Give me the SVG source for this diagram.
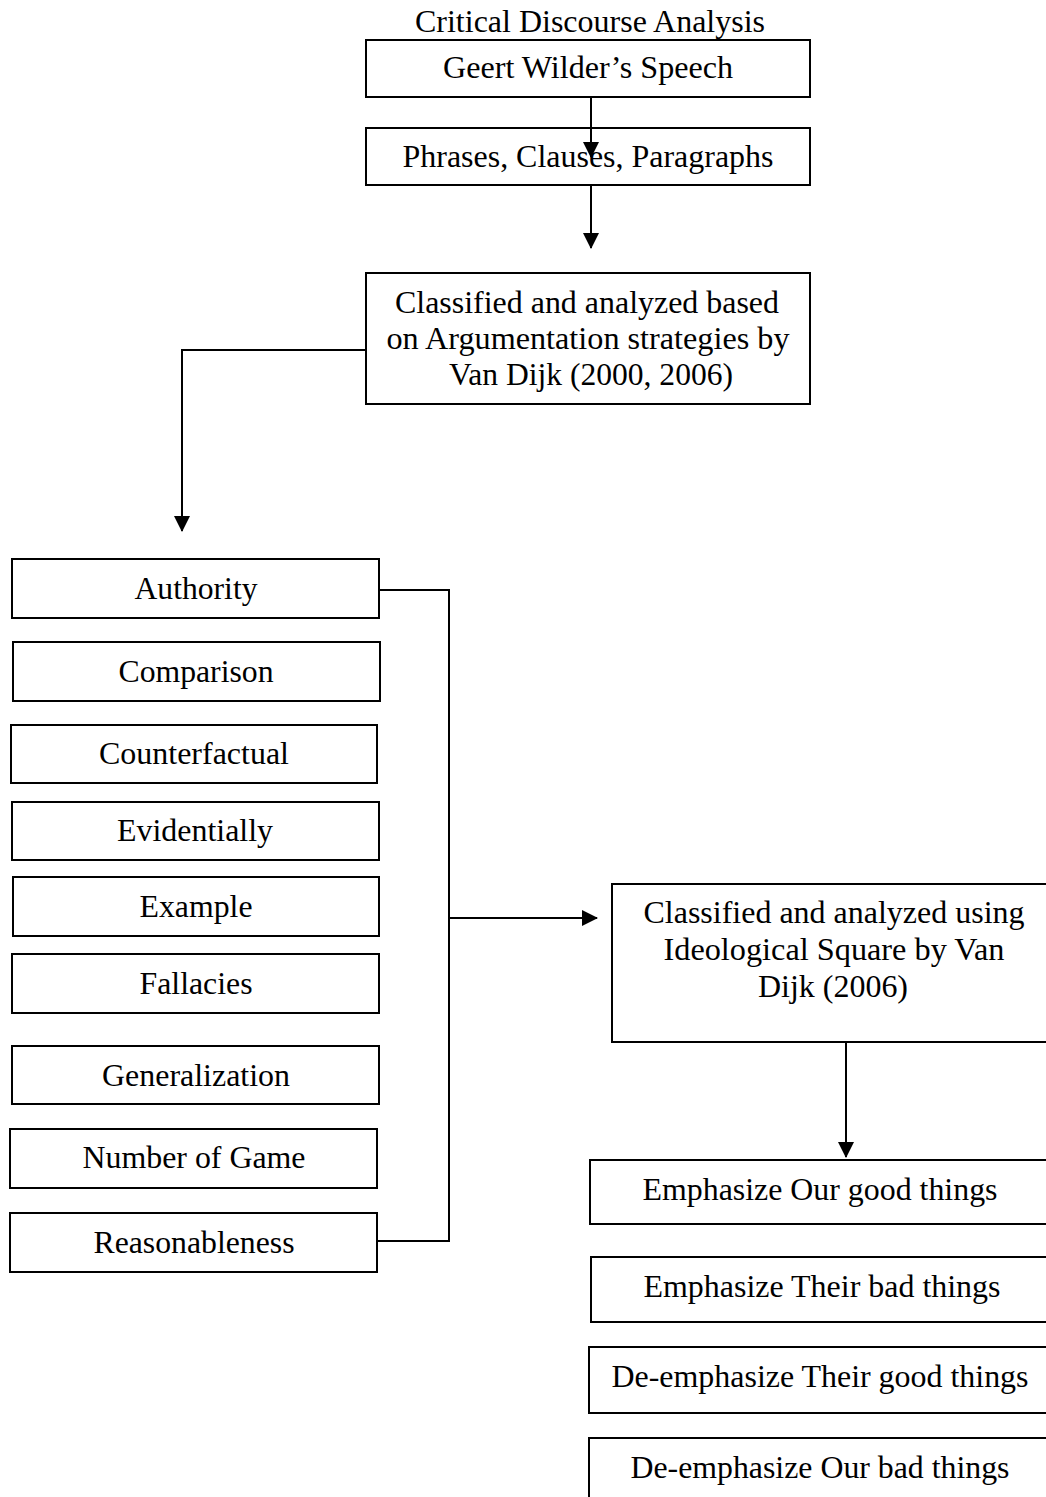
<svg xmlns="http://www.w3.org/2000/svg" width="1046" height="1497" viewBox="0 0 1046 1497">
<style>
  .box{fill:#fff;stroke:#000;stroke-width:2}
  .t{font-family:"Liberation Serif","Times New Roman",serif;font-size:32px;fill:#000;text-anchor:middle}
  .c{fill:none;stroke:#000;stroke-width:2}
</style>
<defs>
  <marker id="ah" markerUnits="userSpaceOnUse" markerWidth="16" markerHeight="16" viewBox="0 0 16 16" refX="15" refY="8" orient="auto">
    <path d="M0,0 L16,8 L0,16 Z" fill="#000"/>
  </marker>
</defs>
<rect width="1046" height="1497" fill="#fff"/>

<g id="title"><text class="t" x="590" y="32" textLength="350" lengthAdjust="spacingAndGlyphs">Critical Discourse Analysis</text></g>

<g id="speech"><rect class="box" x="366" y="40" width="444" height="57"/><text class="t" x="588" y="78" textLength="290" lengthAdjust="spacingAndGlyphs">Geert Wilder’s Speech</text></g>
<g id="phrases"><rect class="box" x="366" y="128" width="444" height="57"/><text class="t" x="588" y="167" textLength="371" lengthAdjust="spacingAndGlyphs">Phrases, Clauses, Paragraphs</text></g>
<g id="argumentation"><rect class="box" x="366" y="273" width="444" height="131"/>
  <text class="t" x="587" y="313" textLength="384" lengthAdjust="spacingAndGlyphs">Classified and analyzed based</text>
  <text class="t" x="588" y="349" textLength="403" lengthAdjust="spacingAndGlyphs">on Argumentation strategies by</text>
  <text class="t" x="591" y="385" textLength="284" lengthAdjust="spacingAndGlyphs">Van Dijk (2000, 2006)</text>
</g>

<g id="authority"><rect class="box" x="12" y="559" width="367" height="59"/><text class="t" x="196" y="599" textLength="123" lengthAdjust="spacingAndGlyphs">Authority</text></g>
<g id="comparison"><rect class="box" x="13" y="642" width="367" height="59"/><text class="t" x="196" y="682" textLength="155" lengthAdjust="spacingAndGlyphs">Comparison</text></g>
<g id="counterfactual"><rect class="box" x="11" y="725" width="366" height="58"/><text class="t" x="194" y="764" textLength="190" lengthAdjust="spacingAndGlyphs">Counterfactual</text></g>
<g id="evidentially"><rect class="box" x="12" y="802" width="367" height="58"/><text class="t" x="195" y="841" textLength="156" lengthAdjust="spacingAndGlyphs">Evidentially</text></g>
<g id="example"><rect class="box" x="13" y="877" width="366" height="59"/><text class="t" x="196" y="917" textLength="113" lengthAdjust="spacingAndGlyphs">Example</text></g>
<g id="fallacies"><rect class="box" x="12" y="954" width="367" height="59"/><text class="t" x="196" y="994" textLength="113" lengthAdjust="spacingAndGlyphs">Fallacies</text></g>
<g id="generalization"><rect class="box" x="12" y="1046" width="367" height="58"/><text class="t" x="196" y="1086" textLength="188" lengthAdjust="spacingAndGlyphs">Generalization</text></g>
<g id="number-of-game"><rect class="box" x="10" y="1129" width="367" height="59"/><text class="t" x="194" y="1168" textLength="223" lengthAdjust="spacingAndGlyphs">Number of Game</text></g>
<g id="reasonableness"><rect class="box" x="10" y="1213" width="367" height="59"/><text class="t" x="194" y="1253" textLength="201" lengthAdjust="spacingAndGlyphs">Reasonableness</text></g>

<g id="ideological-square"><rect class="box" x="612" y="884" width="460" height="158"/>
  <text class="t" x="834" y="923" textLength="381" lengthAdjust="spacingAndGlyphs">Classified and analyzed using</text>
  <text class="t" x="834" y="960" textLength="341" lengthAdjust="spacingAndGlyphs">Ideological Square by Van</text>
  <text class="t" x="833" y="997" textLength="150" lengthAdjust="spacingAndGlyphs">Dijk (2006)</text>
</g>

<g id="our-good"><rect class="box" x="590" y="1160" width="480" height="64"/><text class="t" x="820" y="1200" textLength="355" lengthAdjust="spacingAndGlyphs">Emphasize Our good things</text></g>
<g id="their-bad"><rect class="box" x="591" y="1257" width="480" height="65"/><text class="t" x="822" y="1297" textLength="357" lengthAdjust="spacingAndGlyphs">Emphasize Their bad things</text></g>
<g id="their-good"><rect class="box" x="589" y="1347" width="480" height="66"/><text class="t" x="820" y="1387" textLength="417" lengthAdjust="spacingAndGlyphs">De-emphasize Their good things</text></g>
<g id="our-bad"><rect class="box" x="589" y="1438" width="480" height="80"/><text class="t" x="820" y="1478" textLength="379" lengthAdjust="spacingAndGlyphs">De-emphasize Our bad things</text></g>

<g id="connectors">
  <path class="c" d="M591,97 V157" marker-end="url(#ah)"/>
  <path class="c" d="M591,185 V248" marker-end="url(#ah)"/>
  <path class="c" d="M366,350 H182 V531" marker-end="url(#ah)"/>
  <path class="c" d="M379,590 H449 V1241 H377" stroke-width="1.6"/>
  <path class="c" d="M449,918 H597" marker-end="url(#ah)"/>
  <path class="c" d="M846,1042 V1157" marker-end="url(#ah)"/>
</g>
</svg>
